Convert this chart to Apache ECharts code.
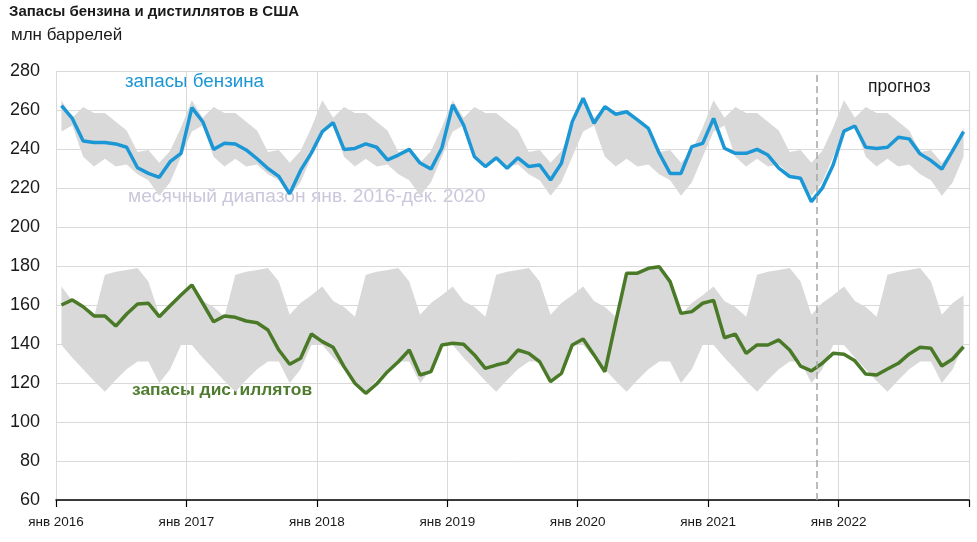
<!DOCTYPE html>
<html>
<head>
<meta charset="utf-8">
<script src="https://cdn.jsdelivr.net/npm/echarts@6/dist/echarts.min.js"></script>
<style>
html,body{margin:0;padding:0;background:#fff;}
#chart{width:977px;height:542px;}
</style>
</head>
<body>
<div id="chart"></div>
<script>
// ---- data ----
const startYear = 2016;
const monthCount = 84; // Jan 2016 .. Dec 2022
const forecastStart = 70; // month index where forecast begins (Nov 2021)
const yTicks = [60, 280, 20];

const gasoline = [
  262.2, 255.7, 244.1, 243.3, 243.3, 242.6, 240.9, 230.4, 227.5, 225.5, 233.5, 237.8,
  261.2, 254.0, 239.8, 242.9, 242.6, 239.5, 235.0, 230.0, 226.0, 217.0, 229.0, 238.0,
  248.9, 253.5, 239.8, 240.3, 242.6, 240.9, 234.4, 236.9, 239.8, 232.8, 229.7, 240.5,
  262.6, 252.3, 236.0, 231.0, 235.5, 230.1, 235.5, 231.0, 231.8, 224.1, 232.7, 254.0,
  266.0, 253.2, 261.7, 257.8, 259.1, 254.9, 250.6, 237.8, 227.5, 227.5, 241.2, 242.9,
  255.7, 240.4, 237.8, 237.8, 239.8, 236.9, 230.2, 225.9, 225.0, 213.0, 219.9, 231.8,
  249.2, 251.8, 240.9, 240.3, 240.9, 246.0, 245.2, 237.5, 234.1, 229.7, 239.2, 248.9
];
const distillate = [
  160.0, 162.6, 159.1, 154.4, 154.4, 149.2, 155.4, 160.5, 160.9, 154.0, 159.6, 165.1,
  170.3, 160.9, 151.4, 154.4, 153.7, 151.8, 150.9, 147.2, 136.9, 129.6, 132.7, 145.1,
  141.2, 138.3, 128.4, 119.9, 114.7, 119.5, 125.8, 130.9, 136.9, 124.1, 125.8, 139.5,
  140.4, 139.9, 134.4, 127.5, 129.2, 130.6, 136.9, 135.2, 130.9, 120.7, 124.9, 139.5,
  142.6, 134.4, 125.8, 151.4, 176.3, 176.3, 178.8, 179.6, 172.0, 155.7, 156.6, 160.9,
  162.4, 143.2, 145.1, 135.2, 139.5, 139.5, 142.1, 136.9, 128.7, 126.2, 130.1, 135.2,
  134.7, 131.4, 124.6, 124.1, 127.2, 130.1, 134.9, 138.3, 137.8, 128.7, 132.3, 138.6
];
// monthly range Jan 2016 - Dec 2020 (Jan..Dec)
const gasRangeHigh = [265, 256, 261.5, 258.5, 258.5, 254, 249.5, 238.5, 239.5, 233, 239, 251];
const gasRangeLow  = [249, 252, 236, 231, 235, 231, 232, 227, 224, 216, 223, 236];
const distRangeHigh = [169.5, 162, 159, 154, 175.5, 177, 178, 179, 172, 155, 161, 165];
const distRangeLow  = [139.5, 133, 127, 121, 115.5, 121.5, 127, 131, 131, 120, 127, 139.5];

const texts = {
  title: 'Запасы бензина и дистиллятов в США',
  subtitle: 'млн баррелей',
  gas: 'запасы бензина',
  dist: 'запасы дистиллятов',
  range: 'месячный диапазон янв. 2016-дек. 2020',
  forecast: 'прогноз',
  monthPrefix: 'янв '
};

// ---- build ----
const FONT = "'Liberation Sans', Arial, sans-serif";

function toPoints(vals) {
  return vals.map((v, i) => [i + 0.5, v]);
}

function bandSeries(hi, lo, name) {
  return {
    type: 'custom',
    name: name,
    silent: true,
    z: 1,
    clip: true,
    data: [[0.5, hi[0]]],
    renderItem: function (params, api) {
      const top = [], bot = [];
      for (let i = 0; i < monthCount; i++) {
        const m = i % 12;
        top.push(api.coord([i + 0.5, hi[m]]));
        bot.push(api.coord([i + 0.5, lo[m]]));
      }
      return {
        type: 'polygon',
        shape: { points: top.concat(bot.reverse()) },
        style: { fill: '#d9d9d9' }
      };
    }
  };
}

const chart = echarts.init(document.getElementById('chart'), null, { renderer: 'canvas' });
chart.setOption({
  backgroundColor: '#fff',
  animation: false,
  grid: { left: 56, right: 8, top: 71, bottom: 42, containLabel: false },
  xAxis: {
    type: 'value',
    min: 0,
    max: monthCount,
    interval: 12,
    axisLine: { show: true, lineStyle: { color: '#000', width: 1.5 } },
    axisTick: { show: true, length: 7, lineStyle: { color: '#000', width: 1.2 } },
    splitLine: { show: true, lineStyle: { color: '#d9d9d9', width: 1 } },
    axisLabel: {
      fontFamily: FONT, fontSize: 13.5, color: '#1a1a1a', margin: 15,
      formatter: function (v) { return v < monthCount ? texts.monthPrefix + (startYear + v / 12) : ''; }
    }
  },
  yAxis: {
    type: 'value',
    min: yTicks[0],
    max: yTicks[1],
    interval: yTicks[2],
    axisLine: { show: false },
    axisTick: { show: false },
    splitLine: { show: true, lineStyle: { color: '#d9d9d9', width: 1 } },
    axisLabel: { fontFamily: FONT, fontSize: 18, color: '#1a1a1a', margin: 16 }
  },
  series: [
    bandSeries(gasRangeHigh, gasRangeLow, 'gasRange'),
    bandSeries(distRangeHigh, distRangeLow, 'distRange'),
    {
      type: 'line', name: 'gas', z: 3,
      data: toPoints(gasoline),
      symbol: 'none',
      lineStyle: { color: '#1c97d5', width: 3.5 },
      markLine: {
        silent: true, symbol: 'none', label: { show: false },
        lineStyle: { color: '#a6a6a6', type: [7, 4], width: 1.5 },
        data: [{ xAxis: forecastStart }]
      }
    },
    {
      type: 'line', name: 'dist', z: 3,
      data: toPoints(distillate),
      symbol: 'none',
      lineStyle: { color: '#4a7a27', width: 3.5 }
    }
  ],
  graphic: [
    { type: 'text', left: 9, top: 4, style: { text: texts.title, font: "bold 15px " + FONT, fill: '#1a1a1a' } },
    { type: 'text', left: 11, top: 27, style: { text: texts.subtitle, font: "17px " + FONT, fill: '#1a1a1a' } },
    { type: 'text', left: 125, top: 72, style: { text: texts.gas, font: "18.8px " + FONT, fill: '#1c97d5' } },
    { type: 'text', left: 128, top: 187, style: { text: texts.range, font: "19.2px " + FONT, fill: '#cbc7dc' } },
    { type: 'text', left: 132, top: 382, style: { text: texts.dist, font: "bold 17.4px " + FONT, fill: '#4e7c2e' } },
    { type: 'text', left: 868, top: 78, style: { text: texts.forecast, font: "17.5px " + FONT, fill: '#1a1a1a' } }
  ]
});
</script>
</body>
</html>
